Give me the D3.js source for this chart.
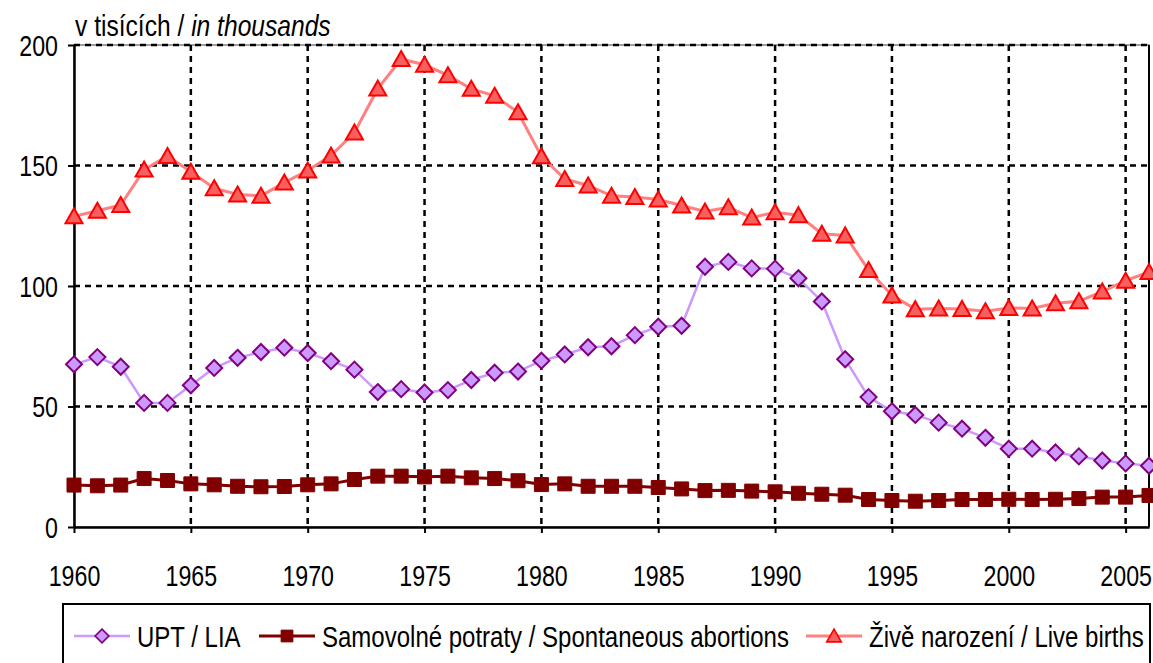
<!doctype html>
<html>
<head>
    <meta charset="utf-8">
    <style>
        body { margin: 0; background: #fff; }
        svg { display: block; }
        text { font-family: "Liberation Sans", Arial, sans-serif; fill: #000; }
    </style>
    <script src="https://d3js.org/d3.v7.min.js"></script>
</head>
<body>
<svg width="1153" height="663"></svg>
<script>
// years 1960-2006, values in thousands
var years = d3.range(1960, 2007);

var upt = [67.5, 70.5, 66.5, 51.5, 51.5, 58.8, 66, 70.2, 72.6, 74.4, 72.2, 68.8, 65.3,
           56, 57.2, 55.8, 56.8, 61, 64, 64.5, 69, 71.6, 74.6, 75, 79.6, 83.1, 83.5,
           108, 110, 107.3, 107.2, 103.2, 93.6, 69.6, 53.9, 48, 46.5, 43.3, 40.8, 37,
           32.5, 32.5, 30.9, 29.3, 27.6, 26.4, 25.4];

var spontaneous = [17.4, 17.1, 17.4, 20.1, 19.3, 17.9, 17.5, 16.9, 16.7, 16.8, 17.5, 17.9,
                   19.7, 21.1, 21.1, 20.8, 21.1, 20.4, 20.1, 19.2, 17.6, 17.9, 16.9, 16.9,
                   16.9, 16.4, 15.8, 15.1, 15.2, 14.9, 14.6, 14.0, 13.6, 13.2, 11.4, 11.0,
                   10.7, 11.0, 11.4, 11.4, 11.5, 11.4, 11.5, 11.8, 12.4, 12.4, 13.1];

var liveBirths = [128.9, 131.2, 133.6, 148.3, 153.9, 147.4, 140.6, 138.0, 137.4, 142.9,
                  147.9, 154.1, 163.7, 181.9, 194.2, 191.8, 187.4, 181.8, 178.9, 172.1,
                  153.8, 144.4, 141.7, 137.4, 136.9, 135.9, 133.4, 130.9, 132.7, 128.4,
                  130.6, 129.4, 121.7, 121.0, 106.6, 96.1, 90.4, 90.7, 90.5, 89.5,
                  90.9, 90.7, 92.8, 93.7, 97.7, 102.2, 105.8];

var yTicks = [0, 50, 100, 150, 200];
var xTicks = [1960, 1965, 1970, 1975, 1980, 1985, 1990, 1995, 2000, 2005];

var seriesNames = ["UPT / LIA", "Samovolné potraty / Spontaneous abortions", "Živě narození / Live births"];

var svg = d3.select("svg");

var x = d3.scaleLinear().domain([1960, 2006]).range([74, 1149]);
var y = d3.scaleLinear().domain([0, 200]).range([527, 45]);

// the original uses a condensed face; squeeze Liberation Sans horizontally
function narrow(sel, k) {
    sel.each(function() {
        var w = this.getComputedTextLength();
        d3.select(this).attr("textLength", w * (k || 0.8)).attr("lengthAdjust", "spacingAndGlyphs");
    });
}

var diamond = "M0,-8L8,0L0,8L-8,0Z",
    square = "M-7,-7H7V7H-7Z",
    triangle = "M0,-8L8.5,7L-8.5,7Z";

var series = [
    {name: seriesNames[0], values: upt, line: "#cc99ff", lw: 2.5, fill: "#cc99ff", stroke: "#800080", sw: 2, shape: diamond},
    {name: seriesNames[1], values: spontaneous, line: "#800000", lw: 3, fill: "#800000", stroke: "#800000", sw: 1, shape: square},
    {name: seriesNames[2], values: liveBirths, line: "#ff8080", lw: 3, fill: "#f86060", stroke: "#ff0000", sw: 2, shape: triangle}
];

// plot border
svg.append("rect")
    .attr("x", x(1960)).attr("y", y(200))
    .attr("width", x(2006) - x(1960)).attr("height", y(0) - y(200))
    .attr("fill", "none").attr("stroke", "#808080").attr("stroke-width", 1.5);

svg.append("line")
    .attr("x1", x(2006)).attr("x2", x(2006))
    .attr("y1", y(200)).attr("y2", y(0))
    .attr("stroke", "#000").attr("stroke-width", 2);

// gridlines
svg.append("g").selectAll("line")
    .data(yTicks.filter(function(d) { return d > 0; }))
    .enter().append("line")
    .attr("x1", x(1960)).attr("x2", x(2006))
    .attr("y1", function(d) { return y(d); })
    .attr("y2", function(d) { return y(d); })
    .attr("stroke", "#000").attr("stroke-width", 2.5)
    .attr("stroke-dasharray", "6,5");

svg.append("g").selectAll("line")
    .data(xTicks.filter(function(d) { return d > 1960; }))
    .enter().append("line")
    .attr("x1", function(d) { return x(d); })
    .attr("x2", function(d) { return x(d); })
    .attr("y1", y(200)).attr("y2", y(0))
    .attr("stroke", "#000").attr("stroke-width", 2.5)
    .attr("stroke-dasharray", "6,5");

// axes
var xAxis = svg.append("g")
    .attr("transform", "translate(0," + y(0) + ")")
    .call(d3.axisBottom(x).tickValues(xTicks).tickFormat(d3.format("d")).tickSizeInner(6).tickSizeOuter(0));
var yAxis = svg.append("g")
    .attr("transform", "translate(" + x(1960) + ",0)")
    .call(d3.axisLeft(y).tickValues(yTicks).tickSizeInner(6).tickSizeOuter(0));

[xAxis, yAxis].forEach(function(a) {
    a.select(".domain").attr("stroke", "#000").attr("stroke-width", 2.5);
    a.selectAll(".tick line").attr("stroke", "#000").attr("stroke-width", 2);
    a.selectAll(".tick text").attr("font-size", 29).attr("font-family", null);
});
xAxis.selectAll(".tick text").attr("dy", null).attr("y", 59).call(narrow, 0.8);
yAxis.selectAll(".tick text").attr("x", -16).attr("dy", "0.36em").call(narrow, 0.8);

// unit label (scaled horizontally as a whole)
var unit = svg.append("text")
    .attr("transform", "translate(75,36) scale(0.82,1)")
    .attr("font-size", 30);
unit.append("tspan").text("v tisících / ");
unit.append("tspan").attr("font-style", "italic").text("in thousands");

// lines and markers
var lineGen = d3.line()
    .x(function(d, i) { return x(years[i]); })
    .y(function(d) { return y(d); });

series.forEach(function(s) {
    svg.append("path")
        .datum(s.values)
        .attr("d", lineGen)
        .attr("fill", "none")
        .attr("stroke", s.line)
        .attr("stroke-width", s.lw);
    svg.append("g").selectAll("path")
        .data(s.values)
        .enter().append("path")
        .attr("d", s.shape)
        .attr("transform", function(d, i) { return "translate(" + x(years[i]) + "," + y(d) + ")"; })
        .attr("fill", s.fill)
        .attr("stroke", s.stroke)
        .attr("stroke-width", s.sw)
        .attr("stroke-linejoin", "miter");
});

// legend
var legend = svg.append("g");
legend.append("rect")
    .attr("x", 63).attr("y", 604)
    .attr("width", 1087).attr("height", 90)
    .attr("fill", "#fff").attr("stroke", "#000").attr("stroke-width", 2);

var legendX = [74, 259, 806];
var itemW = 56;
series.forEach(function(s, i) {
    var g = legend.append("g").attr("transform", "translate(" + legendX[i] + ",636)");
    g.append("line").attr("x1", 0).attr("x2", itemW)
        .attr("stroke", s.line).attr("stroke-width", s.lw);
    g.append("path").attr("d", s.shape)
        .attr("transform", "translate(" + itemW / 2 + ",0) scale(0.85)")
        .attr("fill", s.fill).attr("stroke", s.stroke).attr("stroke-width", s.sw);
    g.append("text").attr("x", itemW + 7).attr("y", 11)
        .attr("font-size", 30).text(s.name).call(narrow, 0.8);
});
</script>
</body>
</html>
